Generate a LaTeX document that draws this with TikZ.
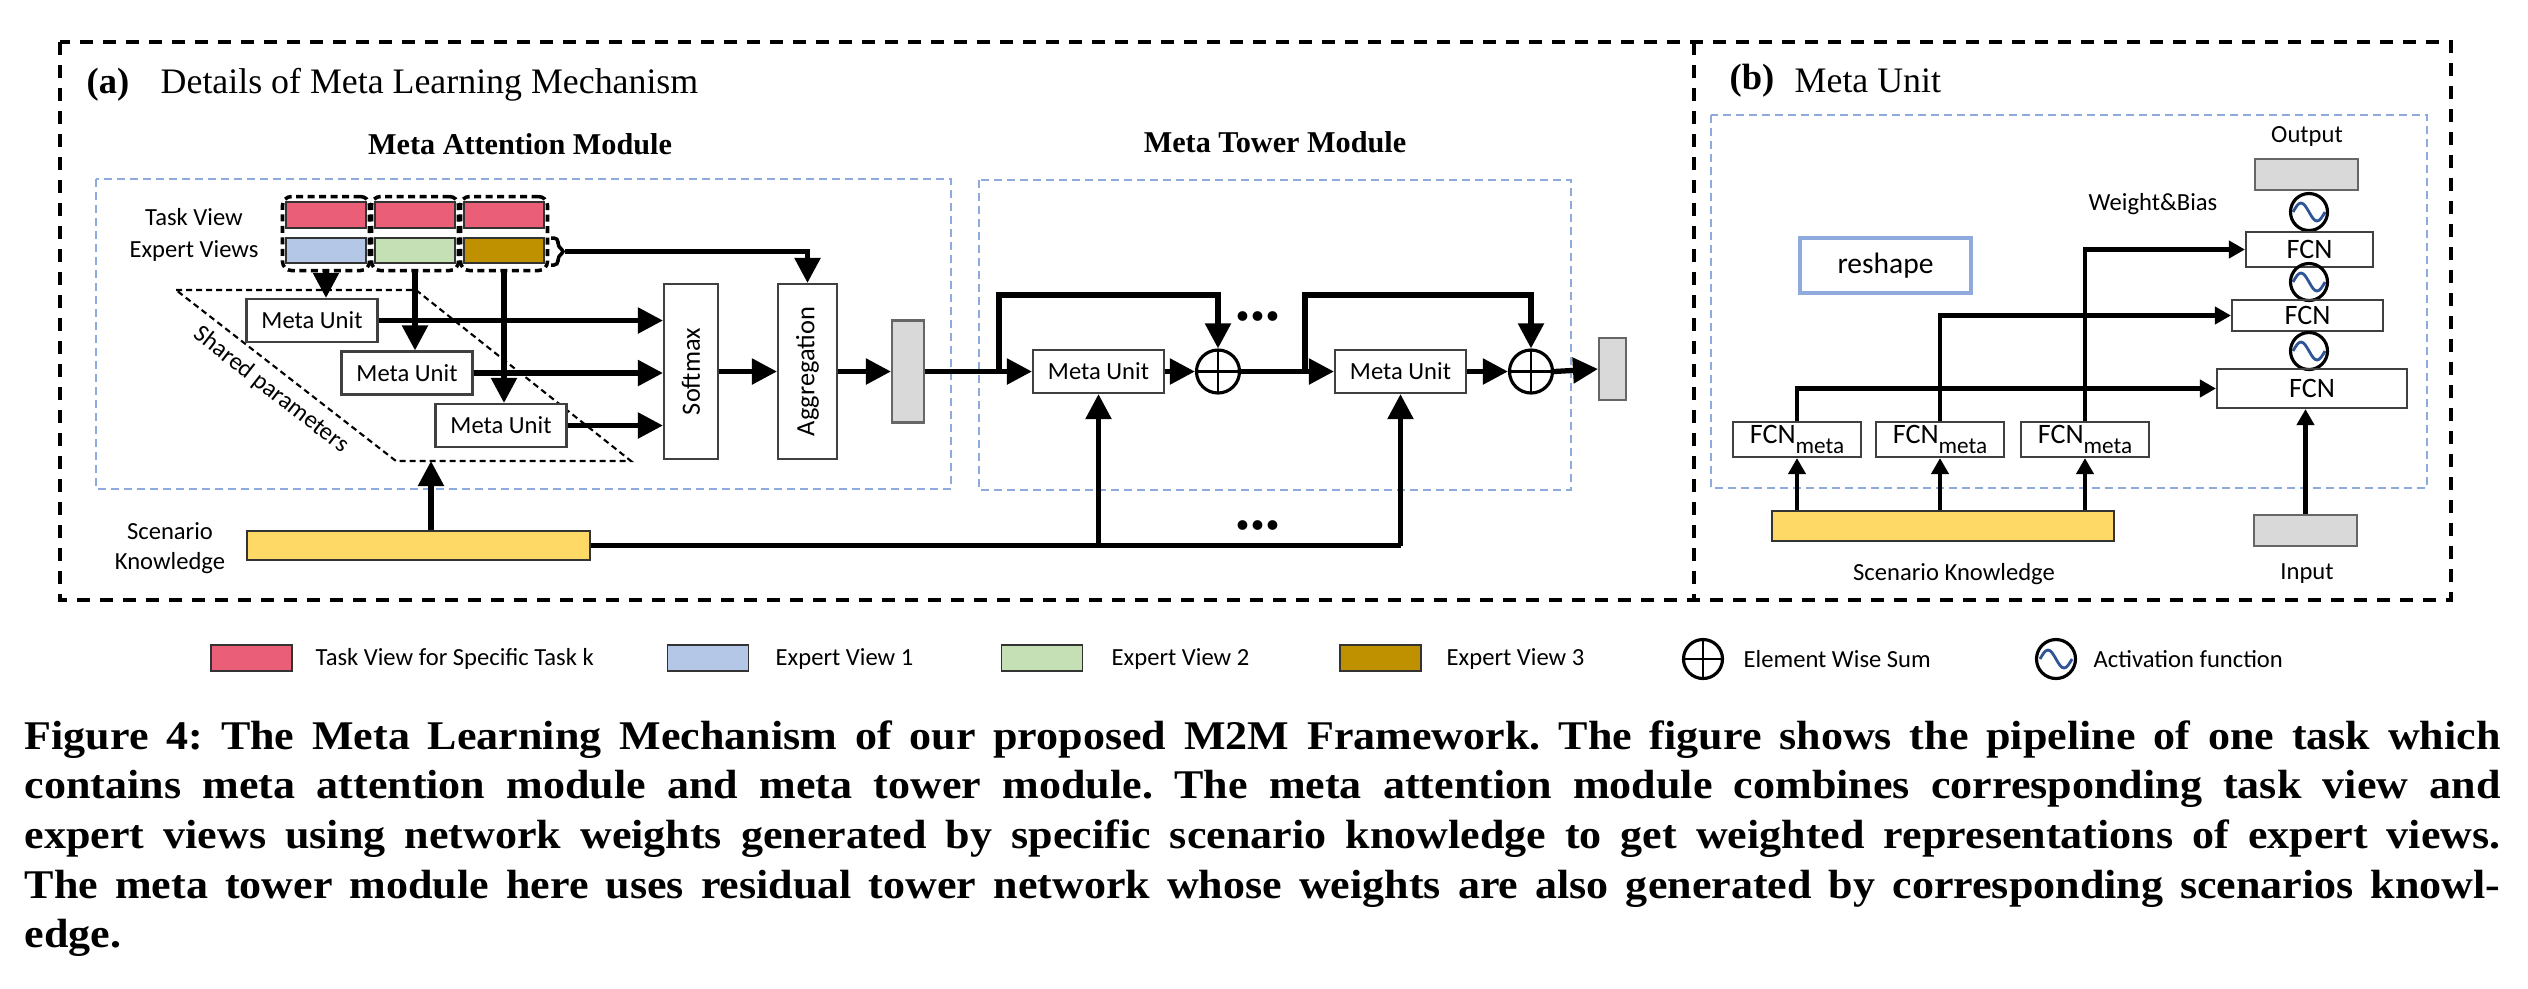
\documentclass[tikz,border=0pt]{standalone}
\usepackage{fontspec}
\setmainfont{Liberation Serif}
\newfontfamily\carlito{Carlito}
\newfontfamily\capfont[FakeStretch=1.08]{Liberation Serif}
\usetikzlibrary{arrows.meta,positioning}

\definecolor{taskred}{HTML}{EA5F77}
\definecolor{expblue}{HTML}{B4C7E7}
\definecolor{expgreen}{HTML}{C5E0B4}
\definecolor{expgold}{HTML}{BF9000}
\definecolor{knowyellow}{HTML}{FFD966}
\definecolor{barfill}{HTML}{D9D9D9}
\definecolor{modblue}{HTML}{8FAADC}
\definecolor{waveblue}{HTML}{2F5597}

\begin{document}
\frenchspacing
\begin{tikzpicture}[x=0.1mm, y=-0.1mm,
    % Define styles
    frame/.style={
        draw,
        line width=1.1pt,
        dash pattern=on 1.3mm off 1mm
    },
    module/.style={
        draw=modblue,
        line width=0.6pt,
        dash pattern=on 0.8mm off 0.5mm
    },
    lbl/.style={
        font=\carlito\fontsize{7}{8.4}\selectfont,
        inner sep=0pt
    },
    metaunit/.style={
        rectangle,
        draw=black!75,
        line width=0.6pt,
        fill=white,
        minimum width=13.1mm,
        minimum height=4.3mm,
        inner sep=0pt,
        font=\carlito\fontsize{7}{8.4}\selectfont
    },
    view/.style={
        rectangle,
        draw=black!80,
        line width=0.5pt,
        minimum width=8mm,
        minimum height=2.55mm,
        inner sep=0pt
    },
    group/.style={
        rectangle,
        draw,
        rounded corners=0.9mm,
        line width=1pt,
        dash pattern=on 0.7mm off 0.45mm,
        minimum width=8.7mm,
        minimum height=7.4mm
    },
    tallbox/.style={
        rectangle,
        draw=black!75,
        line width=0.6pt,
        minimum height=17.5mm,
        inner sep=0pt,
        font=\carlito\fontsize{7.5}{9}\selectfont
    },
    graybar/.style={
        rectangle,
        draw=black!60,
        fill=barfill,
        line width=0.6pt,
        inner sep=0pt
    },
    fcnbox/.style={
        rectangle,
        draw=black!75,
        line width=0.6pt,
        inner sep=0pt,
        font=\carlito\fontsize{8}{9.6}\selectfont
    },
    arrow/.style={
        -{Triangle[length=2.5mm,width=2.5mm]},
        line width=1.5pt
    },
    thinarrow/.style={
        -{Triangle[length=1.6mm,width=1.7mm]},
        line width=1.3pt
    },
    sumnode/.style={
        circle,
        draw,
        line width=0.9pt,
        minimum size=4.3mm,
        inner sep=0pt,
        path picture={\draw[line width=0.8pt]
            (path picture bounding box.north) -- (path picture bounding box.south)
            (path picture bounding box.west) -- (path picture bounding box.east);}
    },
    actnode/.style={
        circle,
        draw,
        line width=0.9pt,
        minimum size=3.7mm,
        inner sep=0pt,
        path picture={\draw[waveblue, line width=0.8pt, shift={(path picture bounding box.center)}]
            (-1.6mm,0) sin (-0.8mm,0.9mm) cos (0,0) sin (0.8mm,-0.9mm) cos (1.6mm,0);}
    },
    dots/.style={
        font=\bfseries\fontsize{17}{17}\selectfont,
        inner sep=0pt
    }
]
\useasboundingbox (0,0) rectangle (2528,988);

% Frames
\draw[frame] (60,42) rectangle (2451,600);
\draw[frame] (1694,42) -- (1694,600);
\draw[module] (96,179) rectangle (951,489);
\draw[module] (979,180) rectangle (1571,490);
\draw[module] (1711,115) rectangle (2427,488);

% Titles
\node[font=\bfseries\fontsize{10.4}{12}\selectfont, anchor=west, inner sep=0pt] (tagA) at (86,85) {(a)};
\node[font=\fontsize{10.2}{12}\selectfont, anchor=west, inner sep=0pt] (titleA) at (160,85) {Details of Meta Learning Mechanism};
\node[font=\bfseries\fontsize{8.6}{10}\selectfont, inner sep=0pt] (attTitle) at (520,144) {Meta Attention Module};
\node[font=\bfseries\fontsize{8.6}{10}\selectfont, inner sep=0pt] (towTitle) at (1275,142) {Meta Tower Module};
\node[font=\bfseries\fontsize{10.4}{12}\selectfont, anchor=west, inner sep=0pt] (tagB) at (1729,81) {(b)};
\node[font=\fontsize{10.2}{12}\selectfont, anchor=west, inner sep=0pt] (titleB) at (1794,81) {Meta Unit};

% Task view and expert views
\node[lbl] (taskLbl) at (194,217) {Task View};
\node[lbl] (expLbl) at (194,251) {Expert Views};
\node[view, fill=taskred] (tv1) at (326,215) {};
\node[view, fill=taskred] (tv2) at (415,215) {};
\node[view, fill=taskred] (tv3) at (504,215) {};
\node[view, fill=expblue] (ev1) at (326,250.5) {};
\node[view, fill=expgreen] (ev2) at (415,250.5) {};
\node[view, fill=expgold] (ev3) at (504,250.5) {};
\node[group] (g1) at (326,233.5) {};
\node[group] (g2) at (415,233.5) {};
\node[group] (g3) at (504,233.5) {};
\draw[line width=1pt, rounded corners=0.4mm] (551,238) -- (558,238) -- (558,247) -- (565,251.5) -- (558,256) -- (558,265) -- (551,265);
\coordinate (braceTip) at (565,251.5);

% Shared parameters
\draw[line width=0.6pt, dash pattern=on 0.6mm off 0.4mm] (176,290) -- (416,290) -- (631,461) -- (396,461) -- cycle;
\coordinate (spBottom) at (431,461);
\node[lbl, rotate=-38] (spLbl) at (271,390) {Shared parameters};

% Meta units of the attention module
\node[metaunit] (mu1) at (312,320.5) {Meta Unit};
\node[metaunit] (mu2) at (407,373) {Meta Unit};
\node[metaunit] (mu3) at (501,425.5) {Meta Unit};
\node[tallbox, minimum width=5.4mm] (softmax) at (691,371.5) {};
\node[rotate=90, font=\carlito\fontsize{7.5}{9}\selectfont] at (softmax) {Softmax};
\node[tallbox, minimum width=5.9mm] (agg) at (807.5,371.5) {};
\node[rotate=90, font=\carlito\fontsize{7.5}{9}\selectfont] at (agg) {Aggregation};
\node[graybar, minimum width=3.2mm, minimum height=10.2mm] (attOut) at (908,371.5) {};

\draw[arrow] (g1.south) -- (g1.south |- mu1.north);
\draw[arrow] (g2.south) -- (g2.south |- mu2.north);
\draw[arrow] (g3.south) -- (g3.south |- mu3.north);
\draw[arrow] (braceTip) -| (agg.north);
\draw[arrow] (mu1.east) -- (softmax.west |- mu1.east);
\draw[arrow] (mu2.east) -- (softmax.west |- mu2.east);
\draw[arrow] (mu3.east) -- (softmax.west |- mu3.east);
\draw[arrow] (softmax.east) -- (agg.west);
\draw[arrow] (agg.east) -- (attOut.west);

% Scenario knowledge
\node[lbl, align=center] (skLbl) at (170,548) {Scenario\\Knowledge};
\node[rectangle, draw=black!80, line width=0.5pt, fill=knowyellow, minimum width=34.3mm, minimum height=2.9mm, inner sep=0pt] (sk) at (418.5,545.5) {};
\draw[arrow] (sk.north -| spBottom) -- (spBottom);

% Meta tower module
\node[metaunit] (muA) at (1098.5,371.5) {Meta Unit};
\node[sumnode] (sumA) at (1218,371.5) {};
\node[metaunit] (muB) at (1400.5,371.5) {Meta Unit};
\node[sumnode] (sumB) at (1531,371.5) {};
\node[graybar, minimum width=2.7mm, minimum height=6.2mm] (towOut) at (1612.5,369) {};
\coordinate (brA) at (999,371.5);
\coordinate (skipA) at (999,295);
\coordinate (brB) at (1305,371.5);
\coordinate (skipB) at (1305,295);
\node[dots] (dotsTop) at (1258,316) {...};
\node[dots] (dotsBot) at (1258,525) {...};

\draw[arrow] (attOut.east) -- (muA.west);
\draw[arrow] (brA) -- (skipA) -| (sumA.north);
\draw[arrow] (muA.east) -- (sumA.west);
\draw[arrow] (sumA.east) -- (muB.west);
\draw[arrow] (brB) -- (skipB) -| (sumB.north);
\draw[arrow] (muB.east) -- (sumB.west);
\draw[arrow] (sumB.east) -- (towOut.west);
\draw[line width=1.5pt] (sk.east) -- (sk.east -| muB.south);
\draw[arrow] (sk.east -| muA.south) -- (muA.south);
\draw[arrow] (sk.east -| muB.south) -- (muB.south);

% Meta unit details
\node[lbl] (outLbl) at (2307,136) {Output};
\node[graybar, minimum width=10.3mm, minimum height=3.1mm] (outBox) at (2306.5,174.5) {};
\node[actnode] (act1) at (2309,212) {};
\node[fcnbox, minimum width=12.7mm, minimum height=3.5mm] (fcn1) at (2309.5,249.5) {FCN};
\node[actnode] (act2) at (2309,282) {};
\node[fcnbox, minimum width=15.1mm, minimum height=3.1mm] (fcn2) at (2307.5,315.5) {FCN};
\node[actnode] (act3) at (2309,351) {};
\node[fcnbox, minimum width=19mm, minimum height=3.9mm] (fcn3) at (2312,388.5) {FCN};
\node[graybar, minimum width=10.3mm, minimum height=3.1mm] (inBox) at (2305.5,530.5) {};
\node[lbl] (inLbl) at (2307,574) {Input};
\node[lbl] (wbLbl) at (2153,204) {Weight\&Bias};
\node[rectangle, draw=modblue, line width=0.9pt, minimum width=17.1mm, minimum height=5.5mm, font=\carlito\fontsize{8.4}{10}\selectfont] (reshape) at (1885.5,265.5) {reshape};
\node[fcnbox, minimum width=12.8mm, minimum height=3.5mm] (fm1) at (1797,439.5) {FCN\raisebox{-0.7ex}{\fontsize{6.6}{7}\selectfont meta}};
\node[fcnbox, minimum width=12.8mm, minimum height=3.5mm] (fm2) at (1940,439.5) {FCN\raisebox{-0.7ex}{\fontsize{6.6}{7}\selectfont meta}};
\node[fcnbox, minimum width=12.8mm, minimum height=3.5mm] (fm3) at (2085,439.5) {FCN\raisebox{-0.7ex}{\fontsize{6.6}{7}\selectfont meta}};
\node[rectangle, draw=black!80, line width=0.5pt, fill=knowyellow, minimum width=34.2mm, minimum height=3mm, inner sep=0pt] (skb) at (1943,526) {};
\node[lbl] (skbLbl) at (1954,574) {Scenario Knowledge};

\draw[thinarrow] (skb.north -| fm1.south) -- (fm1.south);
\draw[thinarrow] (skb.north -| fm2.south) -- (fm2.south);
\draw[thinarrow] (skb.north -| fm3.south) -- (fm3.south);
\draw[thinarrow] (fm1.north) |- (fcn3.west);
\draw[thinarrow] (fm2.north) |- (fcn2.west);
\draw[thinarrow] (fm3.north) |- (fcn1.west);
\draw[thinarrow] (inBox.north) -- (inBox.north |- fcn3.south);

% Legend
\node[view, fill=taskred, minimum width=8.1mm, minimum height=2.6mm] (legTask) at (251.5,658) {};
\node[lbl, anchor=west] (legTaskTxt) at (315,659) {Task View for Specific Task k};
\node[view, fill=expblue, minimum width=8.1mm, minimum height=2.6mm] (legExp1) at (708,658) {};
\node[lbl, anchor=west] (legExp1Txt) at (775,659) {Expert View 1};
\node[view, fill=expgreen, minimum width=8.1mm, minimum height=2.6mm] (legExp2) at (1042,658) {};
\node[lbl, anchor=west] (legExp2Txt) at (1111,659) {Expert View 2};
\node[view, fill=expgold, minimum width=8.1mm, minimum height=2.6mm] (legExp3) at (1380.5,658) {};
\node[lbl, anchor=west] (legExp3Txt) at (1446,659) {Expert View 3};
\node[sumnode, minimum size=3.9mm] (legSum) at (1703,659) {};
\node[lbl, anchor=west] (legSumTxt) at (1743,659) {Element Wise Sum};
\node[actnode, minimum size=3.9mm] (legAct) at (2056,659) {};
\node[lbl, anchor=west] (legActTxt) at (2093,659) {Activation function};

% Caption
\node[anchor=north west, text width=247.6mm, align=justify, inner sep=0pt,
      font=\capfont\bfseries\fontsize{11.6}{14.1}\selectfont] (caption) at (24,720)
  {Figure 4: The Meta Learning Mechanism of our proposed M2M Framework. The figure shows the pipeline of one task which\linebreak
   contains meta attention module and meta tower module. The meta attention module combines corresponding task view and\linebreak
   expert views using network weights generated by specific scenario knowledge to get weighted representations of expert views.\linebreak
   The meta tower module here uses residual tower network whose weights are also generated by corresponding scenarios knowl-\linebreak
   edge.};

\end{tikzpicture}
\end{document}
